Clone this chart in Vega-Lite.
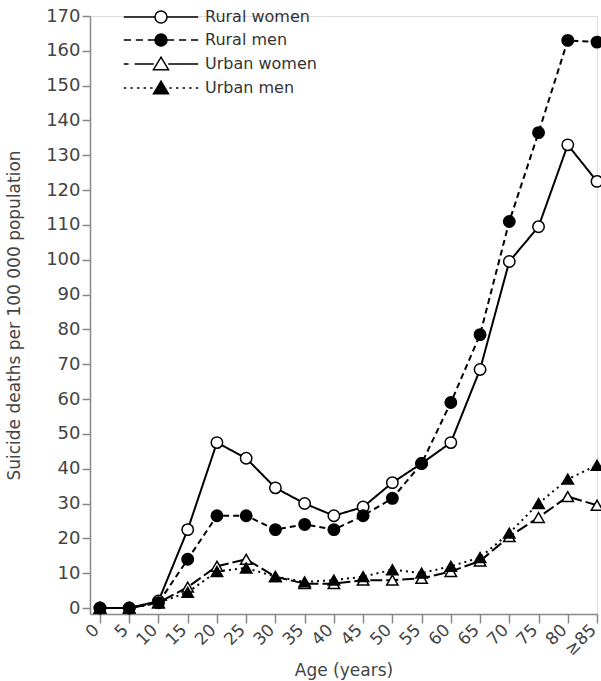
{
  "$schema": "https://vega.github.io/schema/vega-lite/v6.json",
  "width": 507,
  "height": 598,
  "autosize": {"type": "none"},
  "padding": {"left": 90, "top": 16, "right": 4, "bottom": 67},
  "background": "white",
  "data": {
    "values": [
      {"age": 0, "series": "Rural women", "rate": 0},
      {"age": 5, "series": "Rural women", "rate": 0},
      {"age": 10, "series": "Rural women", "rate": 2},
      {"age": 15, "series": "Rural women", "rate": 22.5},
      {"age": 20, "series": "Rural women", "rate": 47.5},
      {"age": 25, "series": "Rural women", "rate": 43},
      {"age": 30, "series": "Rural women", "rate": 34.5},
      {"age": 35, "series": "Rural women", "rate": 30},
      {"age": 40, "series": "Rural women", "rate": 26.5},
      {"age": 45, "series": "Rural women", "rate": 29},
      {"age": 50, "series": "Rural women", "rate": 36},
      {"age": 55, "series": "Rural women", "rate": 41.5},
      {"age": 60, "series": "Rural women", "rate": 47.5},
      {"age": 65, "series": "Rural women", "rate": 68.5},
      {"age": 70, "series": "Rural women", "rate": 99.5},
      {"age": 75, "series": "Rural women", "rate": 109.5},
      {"age": 80, "series": "Rural women", "rate": 133},
      {"age": 85, "series": "Rural women", "rate": 122.5},
      {"age": 0, "series": "Rural men", "rate": 0},
      {"age": 5, "series": "Rural men", "rate": 0},
      {"age": 10, "series": "Rural men", "rate": 1.5},
      {"age": 15, "series": "Rural men", "rate": 14},
      {"age": 20, "series": "Rural men", "rate": 26.5},
      {"age": 25, "series": "Rural men", "rate": 26.5},
      {"age": 30, "series": "Rural men", "rate": 22.5},
      {"age": 35, "series": "Rural men", "rate": 24},
      {"age": 40, "series": "Rural men", "rate": 22.5},
      {"age": 45, "series": "Rural men", "rate": 26.5},
      {"age": 50, "series": "Rural men", "rate": 31.5},
      {"age": 55, "series": "Rural men", "rate": 41.5},
      {"age": 60, "series": "Rural men", "rate": 59},
      {"age": 65, "series": "Rural men", "rate": 78.5},
      {"age": 70, "series": "Rural men", "rate": 111},
      {"age": 75, "series": "Rural men", "rate": 136.5},
      {"age": 80, "series": "Rural men", "rate": 163},
      {"age": 85, "series": "Rural men", "rate": 162.5},
      {"age": 0, "series": "Urban women", "rate": 0},
      {"age": 5, "series": "Urban women", "rate": 0},
      {"age": 10, "series": "Urban women", "rate": 1.5},
      {"age": 15, "series": "Urban women", "rate": 6},
      {"age": 20, "series": "Urban women", "rate": 12},
      {"age": 25, "series": "Urban women", "rate": 14},
      {"age": 30, "series": "Urban women", "rate": 9},
      {"age": 35, "series": "Urban women", "rate": 7},
      {"age": 40, "series": "Urban women", "rate": 7},
      {"age": 45, "series": "Urban women", "rate": 8},
      {"age": 50, "series": "Urban women", "rate": 8},
      {"age": 55, "series": "Urban women", "rate": 8.5},
      {"age": 60, "series": "Urban women", "rate": 10.5},
      {"age": 65, "series": "Urban women", "rate": 13.5},
      {"age": 70, "series": "Urban women", "rate": 20.5},
      {"age": 75, "series": "Urban women", "rate": 26},
      {"age": 80, "series": "Urban women", "rate": 32},
      {"age": 85, "series": "Urban women", "rate": 29.5},
      {"age": 0, "series": "Urban men", "rate": 0},
      {"age": 5, "series": "Urban men", "rate": 0},
      {"age": 10, "series": "Urban men", "rate": 1.5},
      {"age": 15, "series": "Urban men", "rate": 4.5},
      {"age": 20, "series": "Urban men", "rate": 10.5},
      {"age": 25, "series": "Urban men", "rate": 11.5},
      {"age": 30, "series": "Urban men", "rate": 9},
      {"age": 35, "series": "Urban men", "rate": 7.5},
      {"age": 40, "series": "Urban men", "rate": 8},
      {"age": 45, "series": "Urban men", "rate": 9},
      {"age": 50, "series": "Urban men", "rate": 11},
      {"age": 55, "series": "Urban men", "rate": 10},
      {"age": 60, "series": "Urban men", "rate": 12},
      {"age": 65, "series": "Urban men", "rate": 14.5},
      {"age": 70, "series": "Urban men", "rate": 21.5},
      {"age": 75, "series": "Urban men", "rate": 30},
      {"age": 80, "series": "Urban men", "rate": 37},
      {"age": 85, "series": "Urban men", "rate": 41}
    ]
  },
  "resolve": {"scale": {"shape": "independent", "fill": "independent", "stroke": "independent"}},
  "encoding": {
    "x": {
      "field": "age",
      "type": "quantitative",
      "scale": {"domain": [-1.71, 85], "nice": false, "zero": false},
      "axis": {
        "title": "Age (years)",
        "values": [0, 5, 10, 15, 20, 25, 30, 35, 40, 45, 50, 55, 60, 65, 70, 75, 80, 85],
        "labelExpr": "datum.value == 85 ? '≥85' : datum.label",
        "labelAngle": -45,
        "labelAlign": "right",
        "labelBaseline": "middle",
        "labelOverlap": false,
        "labelFlush": false,
        "labelBound": false,
        "labelPadding": 4,
        "labelOffset": -4,
        "labelFont": "DejaVu Sans",
        "labelFontSize": 17,
        "labelColor": "#444",
        "grid": false,
        "domainColor": "#888",
        "domainWidth": 1.5,
        "tickColor": "#888",
        "tickWidth": 1.5,
        "tickSize": 9,
        "titleFont": "DejaVu Sans",
        "titleFontSize": 17,
        "titleFontWeight": "normal",
        "titleColor": "#444",
        "titlePadding": 4
      }
    },
    "y": {
      "field": "rate",
      "type": "quantitative",
      "scale": {"domain": [-1.72, 170], "nice": false, "zero": false},
      "axis": {
        "title": "Suicide deaths per 100 000 population",
        "values": [0, 10, 20, 30, 40, 50, 60, 70, 80, 90, 100, 110, 120, 130, 140, 150, 160, 170],
        "labelFont": "DejaVu Sans",
        "labelFontSize": 18,
        "labelColor": "#444",
        "labelPadding": 2,
        "labelOverlap": false,
        "grid": false,
        "domainColor": "#888",
        "domainWidth": 1.5,
        "tickColor": "#888",
        "tickWidth": 1.5,
        "tickSize": 8,
        "titleFont": "DejaVu Sans",
        "titleFontSize": 17,
        "titleFontWeight": "normal",
        "titleColor": "#444",
        "titleX": -76,
        "titleAlign": "center",
        "titleBaseline": "middle",
        "titleAngle": -90
      }
    }
  },
  "layer": [
    {
      "mark": {"type": "line", "color": "black", "strokeWidth": 2},
      "encoding": {
        "strokeDash": {
          "field": "series",
          "type": "nominal",
          "scale": {
            "domain": ["Rural women", "Rural men", "Urban women", "Urban men"],
            "range": [[1, 0], [6, 4], [12, 4], [2, 4]]
          },
          "legend": null
        }
      }
    },
    {
      "mark": {"type": "point", "filled": true, "stroke": "black", "strokeWidth": 1.5, "size": 130, "opacity": 1},
      "encoding": {
        "shape": {
          "field": "series",
          "type": "nominal",
          "scale": {"range": ["circle", "circle", "triangle-up", "triangle-up"]},
          "legend": null
        },
        "fill": {
          "field": "series",
          "type": "nominal",
          "scale": {"range": ["black", "white", "black", "white"]},
          "legend": null
        }
      }
    },
    {
      "transform": [{"filter": "false"}],
      "mark": {"type": "point", "filled": true, "strokeWidth": 1.5, "opacity": 1},
      "encoding": {
        "shape": {
          "field": "series",
          "type": "nominal",
          "scale": {
            "domain": ["Rural women", "Rural men", "Urban women", "Urban men"],
            "range": [
              "M-6.2,0L-1,0M1,0L6.2,0M-1,0A1,1,0,1,1,1,0A1,1,0,1,1,-1,0Z",
              "M-6.2,0L-5,0M-4.2,0L-3,0M-2.2,0L-1,0M1,0L2.2,0M3,0L4.2,0M5,0L6.2,0M-1,0A1,1,0,1,1,1,0A1,1,0,1,1,-1,0Z",
              "M-6.2,0L-5.4,0M-4.4,0L-1.2,0M1.2,0L6.2,0M0,-1.15L1.25,0.95L-1.25,0.95Z",
              "M-6.2,0L-5.8,0M-5.1,0L-4.7,0M-4,0L-3.6,0M-2.9,0L-2.5,0M-1.8,0L-1.4,0M1.4,0L1.8,0M2.5,0L2.9,0M3.6,0L4,0M4.7,0L5.1,0M5.8,0L6.2,0M0,-1.15L1.25,0.95L-1.25,0.95Z"
            ]
          },
          "legend": {
            "title": null,
            "orient": "none",
            "legendX": 63,
            "legendY": -7,
            "padding": 0,
            "symbolSize": 144,
            "symbolStrokeWidth": 1.5,
            "symbolOpacity": 1,
            "labelOffset": 36,
            "rowPadding": 5,
            "labelFont": "DejaVu Sans",
            "labelFontSize": 16,
            "labelColor": "#333"
          }
        },
        "fill": {
          "field": "series",
          "type": "nominal",
          "scale": {
            "domain": ["Rural women", "Rural men", "Urban women", "Urban men"],
            "range": ["white", "black", "white", "black"]
          },
          "legend": {
            "title": null,
            "orient": "none",
            "legendX": 63,
            "legendY": -7,
            "padding": 0,
            "symbolSize": 144,
            "symbolStrokeWidth": 1.5,
            "symbolOpacity": 1,
            "labelOffset": 36,
            "rowPadding": 5,
            "labelFont": "DejaVu Sans",
            "labelFontSize": 16,
            "labelColor": "#333"
          }
        },
        "stroke": {
          "field": "series",
          "type": "nominal",
          "scale": {
            "domain": ["Rural women", "Rural men", "Urban women", "Urban men"],
            "range": ["black", "black", "black", "black"]
          },
          "legend": {
            "title": null,
            "orient": "none",
            "legendX": 63,
            "legendY": -7,
            "padding": 0,
            "symbolSize": 144,
            "symbolStrokeWidth": 1.5,
            "symbolOpacity": 1,
            "labelOffset": 36,
            "rowPadding": 5,
            "labelFont": "DejaVu Sans",
            "labelFontSize": 16,
            "labelColor": "#333"
          }
        }
      }
    }
  ]
}
